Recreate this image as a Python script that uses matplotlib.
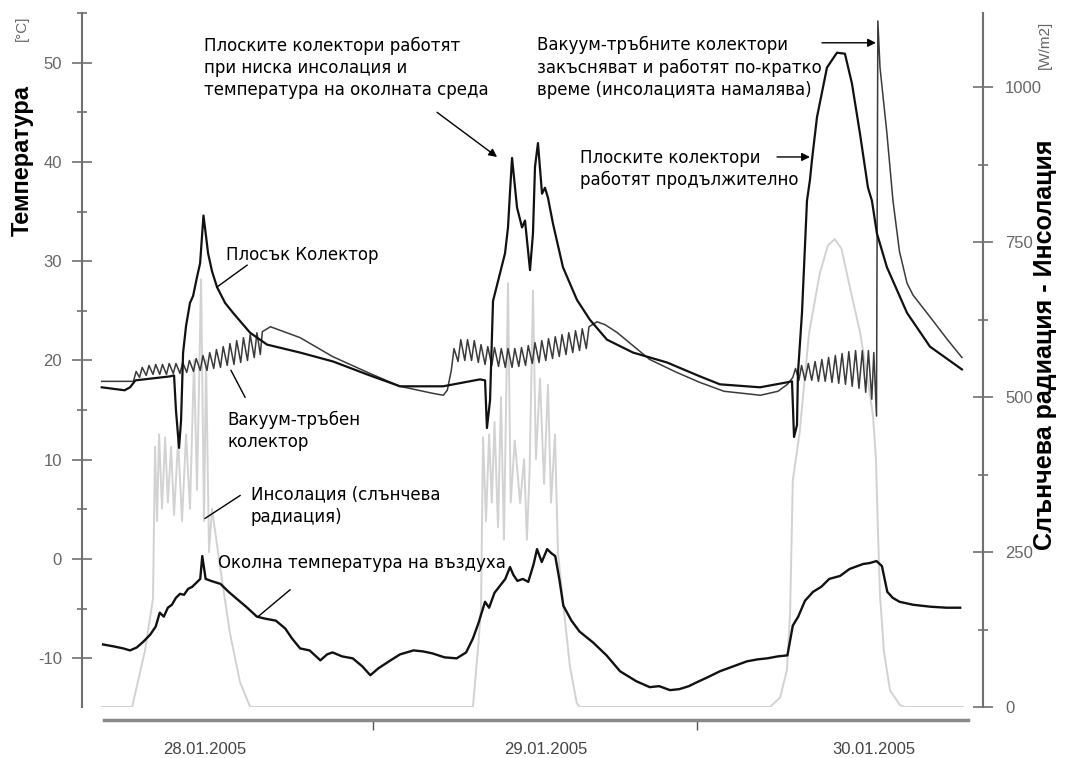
import matplotlib
matplotlib.use('Agg')
import matplotlib.pyplot as plt
from matplotlib.ticker import MultipleLocator, FixedLocator

plt.rcParams['axes.unicode_minus'] = False

# hours counted from 28.01.2005 00:00
flat_h = [3.9, 5.6, 6.0, 6.4, 8.96, 9.26, 9.4, 9.63, 9.78, 9.93, 10.15, 10.44, 10.67,
          10.96, 11.19, 11.33, 11.44, 11.63, 11.78, 12.07, 12.44, 13.04, 13.63, 14.89,
          16.15, 18.59, 21.04, 23.56, 26.0, 28.44, 29.19, 31.93, 32.3, 32.44, 32.67,
          32.89, 33.04, 33.41, 33.78, 34.0, 34.15, 34.3, 34.67, 35.04, 35.26, 35.63,
          35.85, 36.0, 36.22, 36.52, 36.74, 36.96, 37.33, 38.07, 39.11, 40.07, 41.33,
          43.26, 45.78, 48.22, 49.7, 52.67, 54.67, 55.04, 55.19, 55.41, 55.48, 55.78,
          56.15, 56.37, 56.52, 56.89, 57.63, 58.37, 58.96, 59.48, 60.07, 60.67, 60.96,
          61.33, 62.07, 63.56, 65.26, 67.63]
flat_t = [17.3, 17.0, 17.3, 18.0, 18.4, 18.5, 15.0, 11.2, 14.0, 20.8, 23.5, 25.8, 26.5,
          28.4, 29.8, 32.5, 34.6, 32.5, 30.8, 29.0, 27.4, 25.8, 24.8, 22.8,
          21.6, 20.8, 19.9, 18.6, 17.4, 17.4, 17.4, 18.1, 18.0, 13.2, 16.0,
          26.0, 26.8, 28.8, 30.8, 33.4, 37.0, 40.4, 35.4, 33.4, 34.1, 29.1,
          32.8, 39.5, 41.9, 36.8, 37.4, 36.4, 33.8, 29.4, 26.1, 24.1, 22.1,
          20.8, 19.8, 18.4, 17.6, 17.3, 17.8, 17.9, 12.3, 13.5, 18.7, 24.8,
          36.1, 38.2, 40.2, 44.5, 49.5, 51.0, 50.9, 47.9, 42.9, 37.4, 36.1,
          32.8, 29.4, 24.8, 21.4, 19.1]

vac_h = [3.9, 5.0, 6.0, 6.25,
         6.45, 6.7, 6.9, 7.2, 7.4, 7.7, 7.9, 8.2, 8.4, 8.7, 8.9, 9.2, 9.4, 9.7, 9.9, 10.2,
         10.4, 10.7, 10.9, 11.2, 11.4, 11.7, 11.9, 12.2, 12.4, 12.7, 12.9, 13.2, 13.4,
         13.7, 13.9, 14.2, 14.4, 14.7, 14.9, 15.2, 15.4, 15.65, 15.8,
         16.4, 17.2, 18.6, 21.0, 23.6, 26.0, 28.4, 29.2, 29.5, 29.8,
         30.0, 30.3, 30.5, 30.8, 31.0, 31.3, 31.5, 31.8, 32.0, 32.3, 32.5, 32.8, 33.0,
         33.3, 33.5, 33.8, 34.0, 34.3, 34.5, 34.8, 35.0, 35.3, 35.5, 35.8, 36.0, 36.3,
         36.5, 36.8, 37.0, 37.3, 37.5, 37.8, 38.0, 38.3, 38.5, 38.8, 39.0, 39.3, 39.5,
         39.8, 40.0,
         40.6, 41.2, 42.1, 44.5, 46.5, 48.2, 50.0, 52.7, 54.0, 54.7, 55.1,
         55.3, 55.55, 55.75, 56.0, 56.25, 56.5, 56.75, 57.0, 57.25, 57.5, 57.75, 58.0,
         58.25, 58.5, 58.75, 59.0, 59.25, 59.5, 59.75, 60.0, 60.25, 60.5, 60.7, 60.95,
         61.1, 61.3, 61.4,
         61.56, 62.07, 62.52, 63.0, 63.56, 64.0, 65.26, 66.5, 67.63]
vac_t = [17.9, 17.9, 17.9, 17.9,
         18.9, 18.3, 19.3, 18.5, 19.5, 18.6, 19.6, 18.6, 19.6, 18.6, 19.7, 18.7, 19.7, 18.7, 19.8, 18.8,
         20.0, 18.9, 20.2, 19.0, 20.5, 19.0, 20.8, 19.2, 21.1, 19.3, 21.4, 19.5, 21.7,
         19.6, 22.0, 19.8, 22.3, 20.0, 22.6, 20.3, 22.8, 20.6, 22.9,
         23.4, 23.0, 22.3, 20.4, 18.8, 17.4, 16.7, 16.5, 17.0, 19.0,
         21.2, 19.9, 22.1, 20.0, 22.1, 20.0, 22.0, 19.8, 21.6, 19.6, 21.4, 19.5, 21.3,
         19.4, 21.2, 19.3, 21.2, 19.3, 21.2, 19.4, 21.3, 19.5, 21.5, 19.7, 21.8, 19.8,
         22.0, 20.0, 22.2, 20.2, 22.4, 20.4, 22.6, 20.6, 22.8, 20.8, 23.0, 21.0, 23.2,
         21.2, 23.4,
         23.9, 23.6, 22.8, 20.1, 18.8, 17.8, 16.9, 16.5, 16.9, 17.6, 18.3,
         19.2, 18.0, 19.5, 18.0, 19.7, 18.0, 19.9, 17.9, 20.1, 17.9, 20.3, 17.8,
         20.5, 17.7, 20.7, 17.6, 20.9, 17.4, 21.0, 17.2, 21.0, 16.8, 21.0, 16.1,
         20.8, 14.4, 54.2,
         49.5, 42.9, 36.1, 31.0, 27.8, 26.6, 24.4, 22.2, 20.3]

amb_h = [4.0, 4.8, 5.5, 6.0, 6.5, 7.0, 7.5, 7.9, 8.2, 8.5, 8.8, 9.1, 9.4, 9.7, 10.0,
         10.3, 10.6, 10.9, 11.2, 11.35, 11.6, 12.0, 12.7, 13.3, 13.9, 14.6, 15.4, 16.0,
         16.8, 17.5, 18.0, 18.6, 19.3, 20.1, 20.6, 21.0, 21.7, 22.5, 23.2, 23.8, 24.4,
         25.3, 26.0, 27.0, 27.7, 28.4, 29.3, 30.2, 30.9, 31.4, 31.8, 32.3, 32.6, 33.0,
         33.4, 33.8, 34.15, 34.4, 34.7, 35.1, 35.5, 35.9, 36.15, 36.5, 36.9, 37.2, 37.5,
         37.8, 38.1, 38.7, 39.3, 40.3, 41.3, 42.3, 43.5, 44.5, 45.2, 46.0, 46.7, 47.4,
         48.0, 48.8, 49.7, 50.7, 51.7, 52.5, 53.2, 54.0, 54.7, 55.1, 55.5, 56.0, 56.6,
         57.2, 57.8, 58.6, 59.3, 60.3, 60.8, 61.3, 61.7, 62.1, 62.5, 63.0, 64.0, 65.3,
         66.5, 67.5]
amb_t = [-8.6, -8.8, -9.0, -9.2, -8.9, -8.3, -7.6, -6.8, -5.4, -5.8, -4.9, -4.6, -3.9, -3.5, -3.6,
         -3.0, -2.8, -2.4, -2.0, 0.3, -2.0, -2.2, -2.5, -3.3, -4.0, -4.8, -5.8, -6.0,
         -6.2, -7.0, -8.0, -9.0, -9.2, -10.2, -9.6, -9.4, -9.8, -10.0, -10.8, -11.7, -11.0,
         -10.2, -9.6, -9.2, -9.3, -9.5, -9.9, -10.0, -9.4, -8.0, -6.5, -4.3, -4.9, -3.4,
         -2.7, -2.0, -0.8, -1.6, -2.2, -2.0, -2.3, -0.5, 1.0, -0.3, 1.0, 0.6, 0.3,
         -2.0, -4.7, -6.2, -7.3, -8.4, -9.7, -11.3, -12.3, -12.9, -12.8, -13.2, -13.1, -12.8,
         -12.4, -11.9, -11.3, -10.8, -10.3, -10.1, -10.0, -9.8, -9.7, -6.7, -5.8, -4.2, -3.3,
         -2.8, -2.0, -1.7, -1.0, -0.5, -0.4, -0.2, -0.7, -3.3, -3.9, -4.3, -4.6, -4.8,
         -4.9, -4.9]

ins_h = [3.9, 6.15, 7.1, 7.7, 7.85, 8.0, 8.15, 8.37, 8.6, 8.8, 9.04, 9.26, 9.56, 9.85,
         10.15, 10.44, 10.74, 10.96, 11.26, 11.48, 11.63, 11.85, 12.07, 12.67, 13.4,
         14.15, 14.9,
         31.4, 31.8, 32.0, 32.15, 32.37, 32.6, 32.8, 33.0, 33.26, 33.48, 33.7, 34.0,
         34.2, 34.5, 34.9, 35.19, 35.4, 35.6, 35.85, 36.07, 36.37, 36.67, 36.96, 37.19,
         37.48, 37.7, 38.07, 38.59, 39.1, 39.33,
         53.4, 54.15, 54.67, 54.9, 55.1, 55.6, 56.3, 57.1, 57.7, 58.2, 58.7, 59.3, 60.1,
         60.7, 61.04, 61.26, 61.4, 61.56, 61.85, 62.3, 63.04, 63.4, 67.7]
ins_v = [0, 0, 90, 175, 420, 300, 440, 320, 435, 330, 420, 310, 430, 300,
         440, 320, 560, 350, 690, 300, 560, 250, 320, 226, 119,
         40, 0,
         0, 100, 160, 435, 300, 440, 330, 460, 290, 500, 270, 684,
         330, 430, 329, 400, 270, 380, 672, 400, 530, 360, 520, 330,
         440, 250, 170, 65, 6, 0,
         0, 15, 60, 152, 366, 442, 603, 700, 745, 755, 740, 680, 603,
         520, 470, 400, 290, 180, 90, 27, 3, 0, 0]

day_ticks = [24, 48]
day_pos = [11.56, 36.8, 61.1]
day_labels = ['28.01.2005', '29.01.2005', '30.01.2005']

W, H = 1078, 758
fig = plt.figure(figsize=(W / 100, H / 100), dpi=100)

ax = fig.add_axes([82 / W, 1 - 707 / H, (983 - 82) / W, (707 - 13) / H])
ax2 = ax.twinx()
ax.set_zorder(ax2.get_zorder() + 1)
ax.patch.set_visible(False)

ax2.plot(ins_h, ins_v, color='#d2d2d2', lw=1.4)
ax.plot(vac_h, vac_t, color='#3a3a3a', lw=1.1)
ax.plot(flat_h, flat_t, color='#111111', lw=1.6)
ax.plot(amb_h, amb_t, color='#111111', lw=1.7)

ax.set_xlim(2.44, 69.19)
ax.set_ylim(-14.9, 55)
ax2.set_ylim(0, 1120)
ax.set_xticks([])

axis_col = '#707070'
for s in ['top', 'bottom', 'right']:
    ax.spines[s].set_visible(False)
    ax2.spines[s if s != 'right' else 'left'].set_visible(False)
ax.spines['left'].set_color(axis_col)
ax.spines['left'].set_linewidth(1.5)
ax2.spines['right'].set_color(axis_col)
ax2.spines['right'].set_linewidth(1.5)

ax.yaxis.set_major_locator(MultipleLocator(10))
ax.yaxis.set_minor_locator(MultipleLocator(5))
ax2.yaxis.set_major_locator(MultipleLocator(250))
ax2.yaxis.set_minor_locator(MultipleLocator(125))
for a, pad in [(ax, 7), (ax2, 8.5)]:
    a.tick_params(axis='y', which='major', direction='inout', length=15, width=1.2,
                  color=axis_col, labelsize=12, labelcolor='#666666', pad=pad)
    a.tick_params(axis='y', which='minor', direction='inout', length=7, width=1.2,
                  color=axis_col)
    for lab in a.get_yticklabels():
        lab.set_family('Liberation Sans')

# date axis under the plot
axd = fig.add_axes([104 / W, 1 - 720 / H, (968 - 104) / W, 0.001])
axd.set_xlim((104 - 49) / 13.5, (968 - 49) / 13.5)
axd.set_yticks([])
for s in ['top', 'left', 'right']:
    axd.spines[s].set_visible(False)
axd.spines['bottom'].set_color('#8a8a8a')
axd.spines['bottom'].set_linewidth(2.5)
axd.patch.set_visible(False)
axd.xaxis.set_major_locator(FixedLocator(day_ticks))
axd.xaxis.set_minor_locator(FixedLocator(day_pos))
axd.set_xticklabels([])
axd.set_xticklabels(day_labels, minor=True, family='Liberation Sans', fontsize=12,
                    color='#444444')
axd.tick_params(axis='x', which='major', direction='out', length=7, width=1, color='#555555')
axd.tick_params(axis='x', which='minor', length=0, pad=16)

def fp(x, y):
    return x / W, 1 - y / H

fig.text(*fp(22, 160), 'Температура', rotation=90, ha='center', va='center',
         fontsize=17, weight='bold', family='Liberation Sans')
fig.text(*fp(22, 28), '[°C]', rotation=90, ha='center', va='center',
         fontsize=11, color='#666666', family='Liberation Sans')
fig.text(*fp(1045, 345), 'Слънчева радиация - Инсолация', rotation=90, ha='center',
         va='center', fontsize=18, weight='bold', family='Liberation Sans')
fig.text(*fp(1045, 45), '[W/m2]', rotation=90, ha='center', va='center',
         fontsize=11, color='#666666', family='Liberation Sans')

tk = dict(fontsize=12, color='black', family='DejaVu Sans', linespacing=1.3)
ax.text(13.1, 30.6, 'Плосък Колектор', ha='left', va='center', **tk)
ax.plot([14.67, 12.44], [29.6, 27.4], color='black', lw=1)
ax.text(13.19, 12.9, 'Вакуум-тръбен\nколектор', ha='left', va='center', **tk)
ax.plot([14.52, 13.48], [16.3, 19.0], color='black', lw=1)
ax.text(14.96, 5.4, 'Инсолация (слънчева\nрадиация)', ha='left', va='center', **tk)
ax.plot([14.15, 11.56], [6.4, 4.1], color='black', lw=1)
ax.text(12.52, -0.4, 'Околна температура на въздуха', ha='left', va='center', **tk)
ax.plot([17.85, 15.48], [-3.1, -5.8], color='black', lw=1)

ax.text(11.48, 49.5, 'Плоските колектори работят\nпри ниска инсолация и\nтемпература на околната среда',
        ha='left', va='center', **tk)
ax.text(36.15, 49.5, 'Вакуум-тръбните колектори\nзакъсняват и работят по-кратко\nвреме (инсолацията намалява)',
        ha='left', va='center', **tk)
ax.text(39.33, 39.3, 'Плоските колектори\nработят продължително', ha='left', va='center', **tk)

arr = dict(arrowstyle='-|>', color='black', lw=1, mutation_scale=12, shrinkA=0, shrinkB=0)
ax.annotate('', xy=(33.19, 40.5), xytext=(28.74, 45.0), arrowprops=arr)
ax.annotate('', xy=(61.26, 52.0), xytext=(57.26, 52.0), arrowprops=arr)
ax.annotate('', xy=(56.37, 40.5), xytext=(53.93, 40.5), arrowprops=arr)

fig.savefig('out.png', dpi=100)
